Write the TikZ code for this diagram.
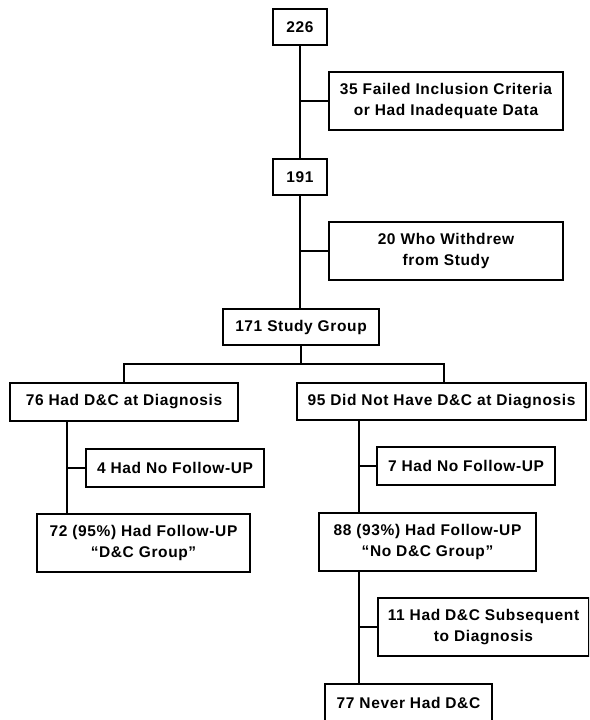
\documentclass[tikz,border=0pt]{standalone}
\usepackage{fontspec}
\setmainfont{Liberation Sans}[LetterSpace=4]
\begin{document}
\begin{tikzpicture}[x=1pt,y=-1pt,
  box/.style={draw,line width=1.8pt,inner sep=0pt,align=center,font=\fontsize{15.5}{21}\selectfont\bfseries},
  link/.style={line width=1.8pt}]
\useasboundingbox (0,0) rectangle (589,720);
\clip (0,0) rectangle (589,720);
\node[box,minimum width=54,minimum height=36] (n226) at (300,27) {226};
\node[box,minimum width=234,minimum height=58] (n35) at (446,101) {35 Failed Inclusion Criteria\\or Had Inadequate Data};
\node[box,minimum width=54,minimum height=36] (n191) at (300,177) {191};
\node[box,minimum width=234,minimum height=58] (n20) at (446,251) {20 Who Withdrew\\from Study};
\node[box,minimum width=156,minimum height=36] (n171) at (301,327) {171 Study Group};
\node[box,minimum width=228,minimum height=38] (n76) at (124,402) {76 Had D\&C at Diagnosis};
\node[box,minimum width=178,minimum height=38] (n4) at (175,468) {4 Had No Follow-UP};
\node[box,minimum width=213,minimum height=58] (n72) at (143.5,543) {72 (95\%) Had Follow-UP\\“D\&C Group”};
\node[box,minimum width=289,minimum height=37] (n95) at (441.5,401.5) {95 Did Not Have D\&C at Diagnosis};
\node[box,minimum width=178,minimum height=38] (n7) at (466,466) {7 Had No Follow-UP};
\node[box,minimum width=217,minimum height=58] (n88) at (427.5,542) {88 (93\%) Had Follow-UP\\“No D\&C Group”};
\node[box,minimum width=211,minimum height=58] (n11) at (483.5,627) {11 Had D\&C Subsequent\\to Diagnosis};
\node[box,minimum width=167,minimum height=38] (n77) at (408.5,703) {77 Never Had D\&C};
\coordinate (busL) at (67,364);
\coordinate (busR) at (444,364);
\coordinate (tL) at (67,0);
\coordinate (tR) at (359,0);
% main trunk
\draw[link] (n226.south) -- (n226.south |- n191.north);
\draw[link] (n35.west) -- (n35.west -| n226.south);
\draw[link] (n191.south) -- (n191.south |- n171.north);
\draw[link] (n20.west) -- (n20.west -| n191.south);
% bus
\draw[link] (n171.south) -- (n171.south |- busR);
\draw[link] (n76.north) -- (n76.north |- busR) -- (busR) -- (n95.north -| busR);
% left branch
\draw[link] (n76.south -| tL) -- (n72.north -| tL);
\draw[link] (n4.west) -- (n4.west -| tL);
% right branch
\draw[link] (n95.south -| tR) -- (n88.north -| tR);
\draw[link] (n7.west) -- (n7.west -| tR);
\draw[link] (n88.south -| tR) -- (n77.north -| tR);
\draw[link] (n11.west) -- (n11.west -| tR);
\end{tikzpicture}
\end{document}
